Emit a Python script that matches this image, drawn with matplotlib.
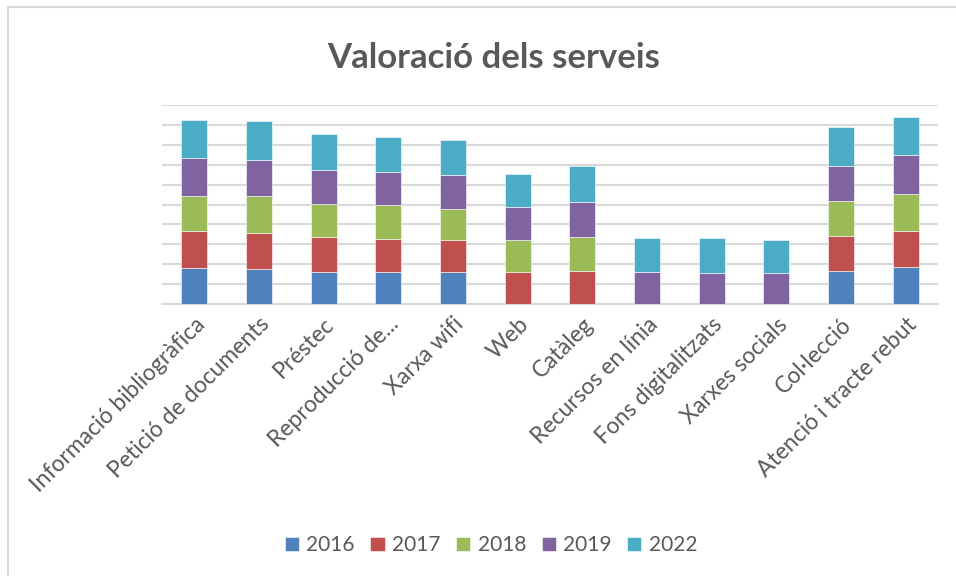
import matplotlib
matplotlib.use('Agg')
import matplotlib.pyplot as plt
import numpy as np
from matplotlib.patches import Rectangle

plt.rcParams['font.family'] = ['Lato', 'DejaVu Sans']

# Categories and values
serveis = ['Informació bibliogràfica', 'Petició de documents', 'Préstec', 'Reproducció de...',
           'Xarxa wifi', 'Web', 'Catàleg', 'Recursos en línia', 'Fons digitalitzats',
           'Xarxes socials', 'Col·lecció', 'Atenció i tracte rebut']
anys = ['2016', '2017', '2018', '2019', '2022']
v2016 = [3.63, 3.50, 3.26, 3.26, 3.26, 0, 0, 0, 0, 0, 3.30, 3.70]
v2017 = [3.67, 3.66, 3.47, 3.30, 3.20, 3.26, 3.36, 0, 0, 0, 3.50, 3.63]
v2018 = [3.60, 3.73, 3.37, 3.37, 3.07, 3.17, 3.37, 0, 0, 0, 3.53, 3.73]
v2019 = [3.73, 3.63, 3.36, 3.33, 3.43, 3.33, 3.53, 3.23, 3.16, 3.10, 3.57, 3.90]
v2022 = [3.90, 3.85, 3.65, 3.55, 3.50, 3.33, 3.65, 3.42, 3.44, 3.37, 3.90, 3.88]
colors = ['#4F81BD', '#C0504D', '#9BBB59', '#8064A2', '#4BACC6']

fig = plt.figure(figsize=(9.56, 5.76), dpi=100)
ax = fig.add_axes([162 / 956, 1 - 304 / 576, (938 - 162) / 956, (304 - 105) / 576])

# light border around the chart (only top/left visible in the reference)
fig.patches.append(Rectangle((7.5 / 956, -0.05), 1.2, 1 - 7 / 576 + 0.05,
                             transform=fig.transFigure, fill=False,
                             edgecolor='#D9D9D9', linewidth=1.5, zorder=0))

x = np.arange(len(serveis))
bottom = np.zeros(len(serveis))
for lab, vals, c in zip(anys, [v2016, v2017, v2018, v2019, v2022], colors):
    vals = np.array(vals)
    ax.bar(x, vals, 0.4, bottom=bottom, color=c, label=lab,
           edgecolor='white', linewidth=0.4, zorder=3)
    bottom += vals

ax.set_xlim(-0.5, len(serveis) - 0.5)
ax.set_ylim(0, 20)
ax.set_yticks(np.arange(0, 21, 2))
ax.yaxis.grid(True, color='#D9D9D9', linewidth=1.5, zorder=0)
ax.tick_params(axis='y', left=False, labelleft=False)
ax.tick_params(axis='x', length=0, pad=7)
for s in ['top', 'right', 'left']:
    ax.spines[s].set_visible(False)
ax.spines['bottom'].set_color('#D9D9D9')
ax.spines['bottom'].set_linewidth(1.5)

ax.set_xticks(x)
ax.set_xticklabels(serveis, rotation=45, ha='right', va='top',
                   rotation_mode='anchor', fontsize=16.5, color='#595959')

fig.text(494 / 956, 1 - 58 / 576, 'Valoració dels serveis', ha='center', va='center',
         fontsize=25, fontweight='bold', color='#595959')

fig.legend(loc='center', bbox_to_anchor=(491 / 956, 1 - 545 / 576), ncol=5,
           frameon=False, fontsize=15, labelcolor='#595959', handlelength=0.68,
           handleheight=0.68, handletextpad=0.35, columnspacing=0.75)

fig.savefig('out.png', dpi=100)
